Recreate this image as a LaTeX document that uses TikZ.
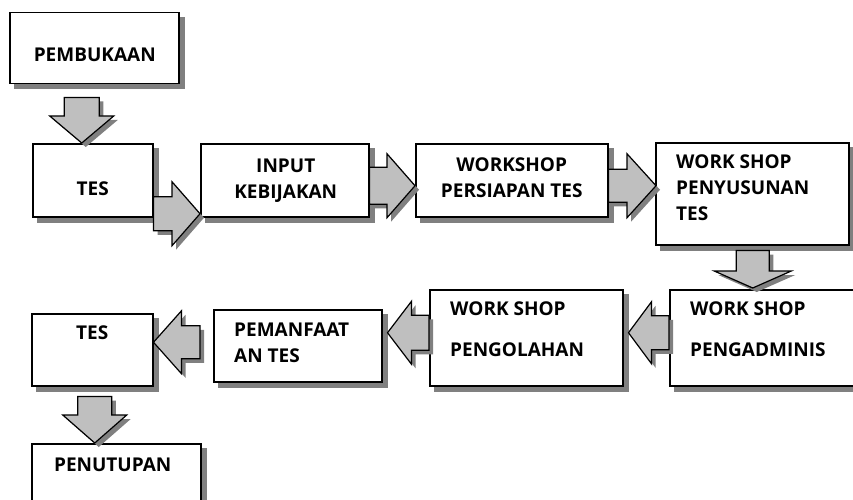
\documentclass[tikz,border=0pt]{standalone}
\usepackage{fontspec}
\setmainfont{Open Sans}
\usetikzlibrary{calc}

\pgfdeclarelayer{shadow}
\pgfsetlayers{shadow,main}

\tikzset{
  box/.style={draw, line width=1.5pt, fill=white, anchor=north west, inner sep=0pt},
  boxshadow/.style={fill=black!50},
  txt/.style={inner sep=0pt, font=\bfseries\fontsize{19}{26}\selectfont},
  blockarr/.style={draw=black, line width=1.2pt, line join=miter, fill=black!25},
  arrshadow/.style={fill=black!50}
}

% shadow of a box, drawn below everything
\newcommand{\shadowof}[1]{%
  \begin{pgfonlayer}{shadow}
    \fill[boxshadow] ($(#1.north west)+(5,5)$) rectangle ($(#1.south east)+(5,5)$);
  \end{pgfonlayer}}

% style, tail, tip, head base
\newcommand{\arrowshape}[4]{%
  \path[#1] (#3) -- ($(#4)!\arrhw pt!90:(#3)$) -- ($(#4)!\arrsw pt!90:(#3)$)
    -- ($(#2)!\arrsw pt!90:(#3)$) -- ($(#2)!\arrsw pt!-90:(#3)$)
    -- ($(#4)!\arrsw pt!-90:(#3)$) -- ($(#4)!\arrhw pt!-90:(#3)$) -- cycle;}

% tail, tip, shaft width, head width, head length
\newcommand{\blockarrow}[5]{%
  \pgfmathsetmacro{\arrsw}{#3/2}\pgfmathsetmacro{\arrhw}{#4/2}
  \coordinate (S) at #1;
  \coordinate (T) at #2;
  \coordinate (H) at ($(T)!#5pt!(S)$);
  \coordinate (S2) at ($(S)+(4,4)$);
  \coordinate (T2) at ($(T)+(4,4)$);
  \coordinate (H2) at ($(H)+(4,4)$);
  \arrowshape{arrshadow}{S2}{T2}{H2}
  \arrowshape{blockarr}{S}{T}{H}}

\begin{document}
\begin{tikzpicture}[x=1pt, y=-1pt]
  \useasboundingbox (0,0) rectangle (853,500);

  % Boxes, top row
  \node[box, minimum width=169pt, minimum height=71pt] (pembukaan) at (9,12) {};
  \node[box, minimum width=120pt, minimum height=73pt] (tes1) at (32,143) {};
  \node[box, minimum width=168pt, minimum height=73pt] (input) at (200,143) {};
  \node[box, minimum width=192pt, minimum height=73pt] (persiapan) at (415,143) {};
  \node[box, minimum width=193pt, minimum height=102pt] (penyusunan) at (655,142) {};

  % Boxes, bottom row
  \node[box, minimum width=201pt, minimum height=96pt] (pengadmin) at (669,289) {};
  \node[box, minimum width=193pt, minimum height=96pt] (pengolahan) at (429,289) {};
  \node[box, minimum width=168pt, minimum height=72pt] (pemanfaatan) at (213,309) {};
  \node[box, minimum width=121pt, minimum height=72pt] (tes2) at (31,313) {};
  \node[box, minimum width=169pt, minimum height=80pt] (penutupan) at (31,443) {};

  % Shadows
  \foreach \b in {pembukaan,tes1,input,persiapan,penyusunan,pengadmin,pengolahan,pemanfaatan,tes2,penutupan}
    {\shadowof{\b}}

  % Texts
  \node[txt, anchor=north] (pembukaan-t) at ($(pembukaan.north)+(0.5,36)$) {PEMBUKAAN};
  \node[txt, anchor=north] (tes1-t) at ($(tes1.north)+(0,39)$) {TES};
  \node[txt, anchor=north, align=center] (input-t) at ($(input.north)+(1,16)$) {INPUT\\KEBIJAKAN};
  \node[txt, anchor=north, align=center] (persiapan-t) at ($(persiapan.north)+(0,15)$) {WORKSHOP\\PERSIAPAN TES};
  \node[txt, anchor=north west, align=left] (penyusunan-t) at ($(penyusunan.north west)+(21,13)$) {WORK SHOP\\PENYUSUNAN\\TES};
  \node[txt, anchor=north west, align=left] (pengadmin-t) at ($(pengadmin.north west)+(21,13)$) {WORK SHOP\\[15pt]PENGADMINIS};
  \node[txt, anchor=north west, align=left] (pengolahan-t) at ($(pengolahan.north west)+(21,13)$) {WORK SHOP\\[15pt]PENGOLAHAN};
  \node[txt, anchor=north west, align=left] (pemanfaatan-t) at ($(pemanfaatan.north west)+(21,14)$) {PEMANFAAT\\AN TES};
  \node[txt, anchor=north] (tes2-t) at ($(tes2.north)+(0,13)$) {TES};
  \node[txt, anchor=north] (penutupan-t) at ($(penutupan.north)+(-3.5,15)$) {PENUTUPAN};

  % Block arrows
  \blockarrow{($(pembukaan.south)+(-12.5,13)$)}{($(tes1.north)+(-11,0)$)}{35}{64}{27}
  \blockarrow{($(tes1.east)+(0,33.5)$)}{($(input.west)+(0,33.5)$)}{34}{64}{28}
  \blockarrow{($(input.east)+(0,5.5)$)}{($(persiapan.west)+(0,5.5)$)}{37}{64}{28}
  \blockarrow{($(persiapan.east)+(0,5.5)$)}{($(penyusunan.west)+(1,-8)$)}{33}{64}{29}
  \blockarrow{($(penyusunan.south)+(0.5,5)$)}{($(pengadmin.north)+(-17.5,-1)$)}{33}{77}{17}
  \blockarrow{($(pengadmin.west)+(0,-5)$)}{($(pengolahan.east)+(5,-5)$)}{34}{62}{23}
  \blockarrow{($(pengolahan.west)+(0,-5)$)}{($(pemanfaatan.east)+(5,-13)$)}{35}{63}{24}
  \blockarrow{($(pemanfaatan.west)+(-13,-3.5)$)}{($(tes2.east)+(0,-7.5)$)}{33}{63}{28}
  \blockarrow{($(tes2.south)+(2.5,10)$)}{($(penutupan.north)+(-21.5,0)$)}{34}{64}{28}
\end{tikzpicture}
\end{document}
